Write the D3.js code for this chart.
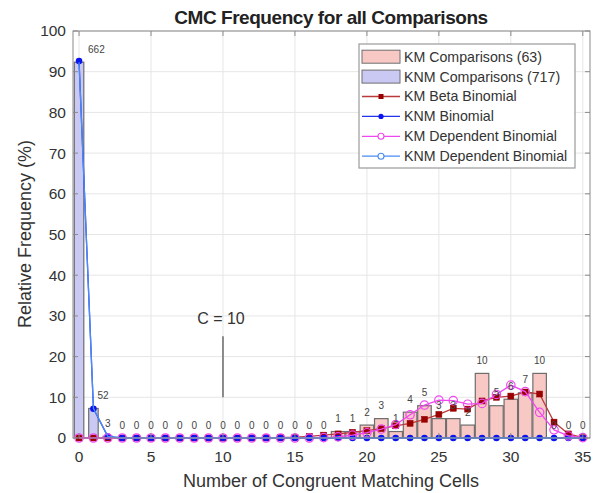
<!DOCTYPE html>
<html>
<head>
<meta charset="utf-8">
<script src="https://cdn.jsdelivr.net/npm/d3@7"></script>
<style>
  html, body { margin: 0; padding: 0; background: #fff; }
  svg { display: block; font-family: "Liberation Sans", Arial, sans-serif; }
</style>
</head>
<body>
<svg id="chart" width="595" height="493"></svg>
<script>
// Number of congruent matching cells (CMC) on the x axis
const cmcValues = [0,1,2,3,4,5,6,7,8,9,10,11,12,13,14,15,16,17,18,19,20,21,22,23,24,25,26,27,28,29,30,31,32,33,34,35];

// Observed counts per CMC value
const kmCounts  = [0,0,0,0,0,0,0,0,0,0,0,0,0,0,0,0,0,0,1,1,2,3,1,4,5,3,3,2,10,5,6,7,10,0,0,0];
const knmCounts = [662,52,3,0,0,0,0,0,0,0,0,0,0,0,0,0,0,0,0,0,0,0,0,0,0,0,0,0,0,0,0,0,0,0,0,0];
const kmTotal = 63;
const knmTotal = 717;

// Fitted model frequencies (%)
const kmBetaBinomial = [0,0,0,0,0,0,0,0,0,0,0,0,0,0.05,0.1,0.2,0.4,0.7,1.0,1.4,1.8,2.3,3.0,3.6,4.6,5.8,7.3,7.1,9.1,10.0,10.3,11.3,10.8,3.9,1.0,0.1];
const knmBinomial = [92.6,7.2,0.35,0,0,0,0,0,0,0,0,0,0,0,0,0,0,0,0,0,0,0,0,0,0,0,0,0,0,0,0,0,0,0,0,0];
const kmDependentBinomial = [0,0,0,0,0,0,0,0,0,0,0,0,0,0,0,0,0,0.1,0.3,0.7,1.3,2.2,3.3,5.7,8.1,9.3,9.2,8.3,8.5,10.7,13.0,11.4,6.3,2.0,0.5,0.1];
const knmDependentBinomial = [92.3,7.3,0.4,0,0,0,0,0,0,0,0,0,0,0,0,0,0,0,0,0,0,0,0,0,0,0,0,0,0,0,0,0,0,0,0,0];

// Axis ticks
const xTicks = [0,5,10,15,20,25,30,35];
const yTicks = [0,10,20,30,40,50,60,70,80,90,100];

// Threshold marker
const thresholdC = 10;
const thresholdRange = [10, 25];

const legendItems = [
  "KM Comparisons (63)",
  "KNM Comparisons (717)",
  "KM Beta Binomial",
  "KNM Binomial",
  "KM Dependent Binomial",
  "KNM Dependent Binomial"
];

const svg = d3.select("#chart");
const plotLeft = 73, plotRight = 590, plotTop = 31, plotBottom = 438;

const x = d3.scaleLinear().domain([-0.42, 35.5]).range([plotLeft, plotRight]);
const y = d3.scaleLinear().domain([0, 100]).range([plotBottom, plotTop]);

const kmPct = kmCounts.map(c => c / kmTotal * 100);
const knmPct = knmCounts.map(c => c / knmTotal * 100);

// Title
svg.append("text")
  .attr("x", 331).attr("y", 24)
  .attr("text-anchor", "middle")
  .attr("font-size", 19).attr("font-weight", "bold").attr("fill", "#222")
  .attr("letter-spacing", -0.45)
  .text("CMC Frequency for all Comparisons");

// Grid
const grid = svg.append("g").attr("stroke", "#e6e6e6").attr("stroke-width", 1);
xTicks.forEach(t => grid.append("line")
  .attr("x1", x(t)).attr("x2", x(t)).attr("y1", plotTop).attr("y2", plotBottom));
yTicks.forEach(t => grid.append("line")
  .attr("x1", plotLeft).attr("x2", plotRight).attr("y1", y(t)).attr("y2", y(t)));

// Bars
const kmBarWidth = 0.94, knmBarWidth = 0.66;
svg.append("clipPath").attr("id", "plotclip")
  .append("rect").attr("x", plotLeft).attr("y", plotTop)
  .attr("width", plotRight - plotLeft).attr("height", plotBottom - plotTop);
const plot = svg.append("g").attr("clip-path", "url(#plotclip)");

plot.append("g").selectAll("rect")
  .data(cmcValues.filter((d, i) => kmPct[i] > 0))
  .join("rect")
  .attr("x", d => x(d - kmBarWidth / 2))
  .attr("width", d => x(d + kmBarWidth / 2) - x(d - kmBarWidth / 2))
  .attr("y", d => y(kmPct[d]))
  .attr("height", d => y(0) - y(kmPct[d]))
  .attr("fill", "#f8c8c4").attr("stroke", "#6e6e6e").attr("stroke-width", 1.2);

plot.append("g").selectAll("rect")
  .data(cmcValues.filter((d, i) => knmPct[i] > 0))
  .join("rect")
  .attr("x", d => x(d - knmBarWidth / 2))
  .attr("width", d => x(d + knmBarWidth / 2) - x(d - knmBarWidth / 2))
  .attr("y", d => y(knmPct[d]))
  .attr("height", d => y(0) - y(knmPct[d]))
  .attr("fill", "#c9c9f4").attr("stroke", "#6e6e6e").attr("stroke-width", 1.2);

// Model curves
const line = vals => d3.line().x((d, i) => x(cmcValues[i])).y(d => y(d))(vals);

function drawSeries(vals, lineColor, marker) {
  const g = svg.append("g");
  g.append("path").attr("d", line(vals))
    .attr("fill", "none").attr("stroke", lineColor).attr("stroke-width", 1.3);
  vals.forEach((v, i) => {
    const cx = x(cmcValues[i]), cy = y(v);
    if (marker === "square") {
      g.append("rect").attr("x", cx - 3).attr("y", cy - 3).attr("width", 6).attr("height", 6)
        .attr("fill", "#990000").attr("stroke", "#990000").attr("stroke-width", 0.5);
    } else if (marker === "dot") {
      g.append("circle").attr("cx", cx).attr("cy", cy).attr("r", 3.3).attr("fill", "#0a14f0");
    } else if (marker === "ring") {
      g.append("circle").attr("cx", cx).attr("cy", cy).attr("r", 4.2)
        .attr("fill", "none").attr("stroke", lineColor).attr("stroke-width", 1.2);
    }
  });
}

drawSeries(kmBetaBinomial, "#b83a3a", "square");
drawSeries(knmBinomial, "#2233ee", "dot");
drawSeries(kmDependentBinomial, "#f048f0", "ring");
drawSeries(knmDependentBinomial, "#4a8cf4", "none");

// Count labels above the taller bar
const labelOffset = { 0: 9, 1: 4 };
cmcValues.forEach((d, i) => {
  const useKm = kmPct[i] > knmPct[i];
  const count = useKm ? kmCounts[i] : knmCounts[i];
  const pct = Math.max(kmPct[i], knmPct[i]);
  const off = labelOffset[d];
  svg.append("text")
    .attr("x", x(d) + (off !== undefined ? off : 0))
    .attr("y", y(pct) - 13)
    .attr("dy", "0.35em")
    .attr("text-anchor", off !== undefined ? "start" : "middle")
    .attr("font-size", 10).attr("fill", "#444")
    .text(count);
});

// Threshold annotation
svg.append("line")
  .attr("x1", x(thresholdC)).attr("x2", x(thresholdC))
  .attr("y1", y(thresholdRange[1])).attr("y2", y(thresholdRange[0]))
  .attr("stroke", "#808080").attr("stroke-width", 1.8);
svg.append("text")
  .attr("x", x(thresholdC) - 2).attr("y", y(29.5)).attr("dy", "0.35em")
  .attr("text-anchor", "middle").attr("font-size", 16).attr("fill", "#333")
  .text("C = " + thresholdC);

// Axes box and ticks
const axisColor = "#8a8a8a";
svg.append("rect").attr("x", plotLeft).attr("y", plotTop)
  .attr("width", plotRight - plotLeft).attr("height", plotBottom - plotTop)
  .attr("fill", "none").attr("stroke", axisColor).attr("stroke-width", 1);
const ticks = svg.append("g").attr("stroke", axisColor);
xTicks.forEach(t => {
  ticks.append("line").attr("x1", x(t)).attr("x2", x(t)).attr("y1", plotBottom).attr("y2", plotBottom - 5);
  ticks.append("line").attr("x1", x(t)).attr("x2", x(t)).attr("y1", plotTop).attr("y2", plotTop + 5);
});
yTicks.forEach(t => {
  ticks.append("line").attr("x1", plotLeft).attr("x2", plotLeft + 5).attr("y1", y(t)).attr("y2", y(t));
  ticks.append("line").attr("x1", plotRight).attr("x2", plotRight - 5).attr("y1", y(t)).attr("y2", y(t));
});

// Tick labels
svg.append("g").selectAll("text").data(xTicks).join("text")
  .attr("x", d => x(d)).attr("y", 457).attr("dy", "0.35em")
  .attr("text-anchor", "middle").attr("font-size", 15.5).attr("fill", "#333")
  .text(d => d);
svg.append("g").selectAll("text").data(yTicks).join("text")
  .attr("x", 66).attr("y", d => y(d)).attr("dy", "0.35em")
  .attr("text-anchor", "end").attr("font-size", 15.5).attr("fill", "#333")
  .text(d => d);

// Axis titles
svg.append("text")
  .attr("x", 331).attr("y", 481).attr("dy", "0.35em")
  .attr("text-anchor", "middle").attr("font-size", 18).attr("fill", "#333")
  .text("Number of Congruent Matching Cells");
svg.append("text")
  .attr("transform", "translate(25,234) rotate(-90)")
  .attr("dy", "0.35em")
  .attr("text-anchor", "middle").attr("font-size", 18).attr("fill", "#333")
  .text("Relative Frequency (%)");

// Legend
const lg = svg.append("g").attr("transform", "translate(359,44)");
lg.append("rect").attr("width", 216).attr("height", 124)
  .attr("fill", "#fff").attr("stroke", "#9a9a9a").attr("stroke-width", 1.2);
const rowY = i => 12.7 + i * 19.9;
const swatchX0 = 3, swatchX1 = 41, textX = 45;
const legendColors = ["#b83a3a", "#2233ee", "#f048f0", "#4a8cf4"];
legendItems.forEach((name, i) => {
  const cy = rowY(i);
  if (i === 0 || i === 1) {
    lg.append("rect").attr("x", swatchX0).attr("y", cy - 6.5).attr("width", swatchX1 - swatchX0).attr("height", 13)
      .attr("fill", i === 0 ? "#f8c8c4" : "#c9c9f4").attr("stroke", "#6e6e6e").attr("stroke-width", 1);
  } else {
    const c = legendColors[i - 2];
    lg.append("line").attr("x1", swatchX0).attr("x2", swatchX1).attr("y1", cy).attr("y2", cy)
      .attr("stroke", c).attr("stroke-width", 1.3);
    const mx = (swatchX0 + swatchX1) / 2;
    if (i === 2) lg.append("rect").attr("x", mx - 2.5).attr("y", cy - 2.5).attr("width", 5).attr("height", 5).attr("fill", "#990000");
    if (i === 3) lg.append("circle").attr("cx", mx).attr("cy", cy).attr("r", 2.6).attr("fill", "#0a14f0");
    if (i >= 4) lg.append("circle").attr("cx", mx).attr("cy", cy).attr("r", 3).attr("fill", "#fff").attr("stroke", c).attr("stroke-width", 1.1);
  }
  lg.append("text").attr("x", textX).attr("y", cy).attr("dy", "0.35em")
    .attr("font-size", 14.2).attr("fill", "#333").text(name);
});
</script>
</body>
</html>
